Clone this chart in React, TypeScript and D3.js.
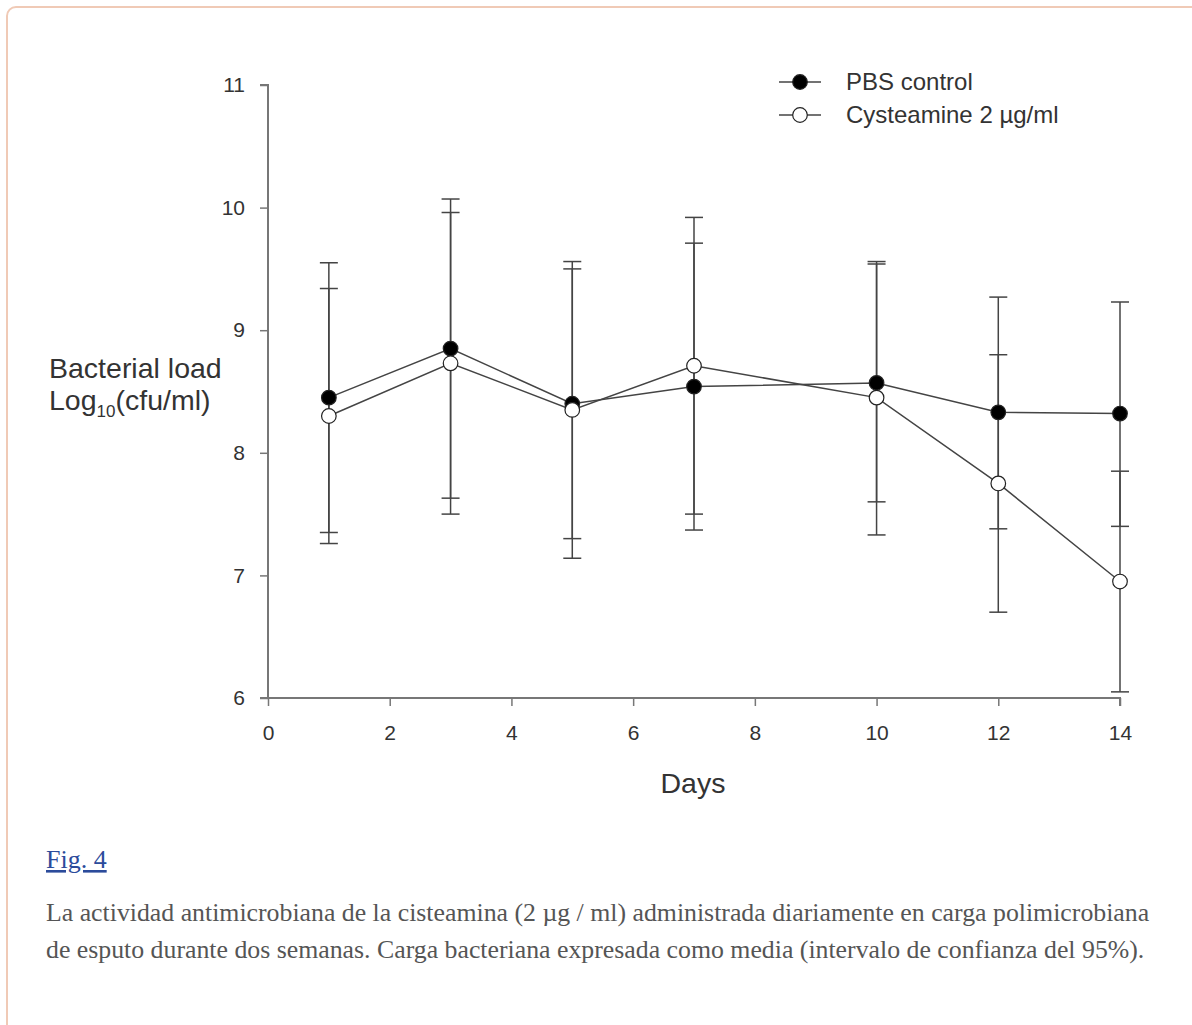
import React, { useRef, useEffect } from "react";
import * as d3 from "d3";

// days sampled
const days = [1, 3, 5, 7, 10, 12, 14];

// PBS control: mean, lower and upper 95% CI
const pbsMean = [8.45, 8.85, 8.4, 8.54, 8.57, 8.33, 8.32];
const pbsLow = [7.35, 7.63, 7.3, 7.37, 7.6, 7.38, 7.4];
const pbsHigh = [9.55, 10.07, 9.5, 9.71, 9.56, 9.27, 9.23];

// Cysteamine 2 ug/ml
const cysMean = [8.3, 8.73, 8.35, 8.71, 8.45, 7.75, 6.95];
const cysLow = [7.26, 7.5, 7.14, 7.5, 7.33, 6.7, 6.05];
const cysHigh = [9.34, 9.96, 9.56, 9.92, 9.54, 8.8, 7.85];

const xTicks = [0, 2, 4, 6, 8, 10, 12, 14];
const yTicks = [6, 7, 8, 9, 10, 11];

const captionLines = [
    "La actividad antimicrobiana de la cisteamina (2 µg / ml) administrada diariamente en carga polimicrobiana",
    "de esputo durante dos semanas. Carga bacteriana expresada como media (intervalo de confianza del 95%).",
];

function App() {
    const svgRef = useRef<SVGSVGElement>(null);

    useEffect(() => {
        const svg = d3.select(svgRef.current);
        svg.selectAll("*").remove();

        const sans = "Arial, 'Liberation Sans', sans-serif";
        const serif = "'Times New Roman', 'Liberation Serif', serif";

        // page frame
        svg.append("rect")
            .attr("x", 7).attr("y", 7)
            .attr("width", 1220).attr("height", 1060)
            .attr("rx", 9)
            .attr("fill", "none")
            .attr("stroke", "#f0cab6")
            .attr("stroke-width", 2);

        const xScale = d3.scaleLinear().domain([0, 14]).range([268, 1120]);
        const yScale = d3.scaleLinear().domain([6, 11]).range([698, 85]);

        const axisColor = "#777";
        const textColor = "#333";

        // y axis
        const yAxis = svg.append("g")
            .attr("transform", `translate(${xScale(0)},0)`)
            .call(d3.axisLeft(yScale).tickValues(yTicks).tickSize(8).tickPadding(15).tickFormat(d3.format("d")));
        yAxis.select(".domain").attr("stroke", axisColor).attr("stroke-width", 2).attr("d", `M-8,${yScale(11)}H0V${yScale(6)}`);
        yAxis.selectAll(".tick line").attr("stroke", axisColor).attr("stroke-width", 1.5);
        yAxis.selectAll(".tick text").attr("fill", textColor).style("font-family", sans).style("font-size", "21px");

        // x axis
        const xAxis = svg.append("g")
            .attr("transform", `translate(0,${yScale(6)})`)
            .call(d3.axisBottom(xScale).tickValues(xTicks).tickSize(8).tickPadding(19).tickFormat(d3.format("d")));
        xAxis.select(".domain").attr("stroke", axisColor).attr("stroke-width", 2).attr("d", `M${xScale(0) - 8},0H${xScale(14)}V8`);
        xAxis.selectAll(".tick line").attr("stroke", axisColor).attr("stroke-width", 1.5);
        xAxis.selectAll(".tick text").attr("fill", textColor).style("font-family", sans).style("font-size", "21px");

        // axis titles
        svg.append("text")
            .attr("x", 693).attr("y", 793)
            .attr("text-anchor", "middle")
            .attr("fill", textColor)
            .style("font-family", sans).style("font-size", "28.5px")
            .text("Days");

        svg.append("text")
            .attr("x", 49).attr("y", 378)
            .attr("fill", textColor)
            .style("font-family", sans).style("font-size", "28.5px")
            .text("Bacterial load");
        const ylab2 = svg.append("text")
            .attr("x", 49).attr("y", 410)
            .attr("fill", textColor)
            .style("font-family", sans).style("font-size", "28.5px");
        ylab2.append("tspan").text("Log");
        ylab2.append("tspan").attr("dy", 7).style("font-size", "17px").text("10");
        ylab2.append("tspan").attr("dy", -7).text("(cfu/ml)");

        const series = [
            { name: "PBS control", mean: pbsMean, low: pbsLow, high: pbsHigh, fill: "#000" },
            { name: "Cysteamine 2 µg/ml", mean: cysMean, low: cysLow, high: cysHigh, fill: "#fff" },
        ];

        const capW = 9;
        const lineColor = "#444";

        // error bars
        series.forEach(s => {
            const g = svg.append("g");
            days.forEach((d, i) => {
                const x = xScale(d);
                g.append("line")
                    .attr("x1", x).attr("x2", x)
                    .attr("y1", yScale(s.low[i])).attr("y2", yScale(s.high[i]))
                    .attr("stroke", lineColor).attr("stroke-width", 1.5);
                [s.low[i], s.high[i]].forEach(v => {
                    g.append("line")
                        .attr("x1", x - capW).attr("x2", x + capW)
                        .attr("y1", yScale(v)).attr("y2", yScale(v))
                        .attr("stroke", lineColor).attr("stroke-width", 1.5);
                });
            });
        });

        const line = d3.line<number>()
            .x((v, i) => xScale(days[i]))
            .y(v => yScale(v));

        // lines
        series.forEach(s => {
            svg.append("path")
                .attr("d", line(s.mean))
                .attr("fill", "none")
                .attr("stroke", lineColor)
                .attr("stroke-width", 1.5);
        });

        // markers
        series.forEach(s => {
            svg.append("g")
                .selectAll("circle")
                .data(s.mean)
                .join("circle")
                .attr("cx", (v, i) => xScale(days[i]))
                .attr("cy", v => yScale(v))
                .attr("r", 7.3)
                .attr("fill", s.fill)
                .attr("stroke", "#222")
                .attr("stroke-width", 1.2);
        });

        // legend
        series.forEach((s, i) => {
            const y = 82 + i * 33;
            svg.append("line")
                .attr("x1", 779).attr("x2", 821)
                .attr("y1", y).attr("y2", y)
                .attr("stroke", lineColor).attr("stroke-width", 1.5);
            svg.append("circle")
                .attr("cx", 800).attr("cy", y).attr("r", 7.3)
                .attr("fill", s.fill).attr("stroke", "#222").attr("stroke-width", 1.2);
            svg.append("text")
                .attr("x", 846).attr("y", y)
                .attr("dy", "0.35em")
                .attr("fill", textColor)
                .style("font-family", sans).style("font-size", "24px")
                .text(s.name);
        });

        // caption
        svg.append("text")
            .attr("x", 46).attr("y", 868)
            .attr("fill", "#2b4b9b")
            .attr("text-decoration", "underline")
            .style("font-family", serif).style("font-size", "26px")
            .text("Fig. 4");

        svg.selectAll(".caption")
            .data(captionLines)
            .join("text")
            .attr("class", "caption")
            .attr("x", 46)
            .attr("y", (d, i) => 921 + i * 37)
            .attr("fill", "#555")
            .style("font-family", serif).style("font-size", "25.8px")
            .text(d => d);
    }, []);

    return (
        <div>
            <svg ref={svgRef} width={1192} height={1025}
                style={{ position: "absolute", left: 0, top: 0, background: "#fff" }}></svg>
        </div>
    );
}

export default App;
